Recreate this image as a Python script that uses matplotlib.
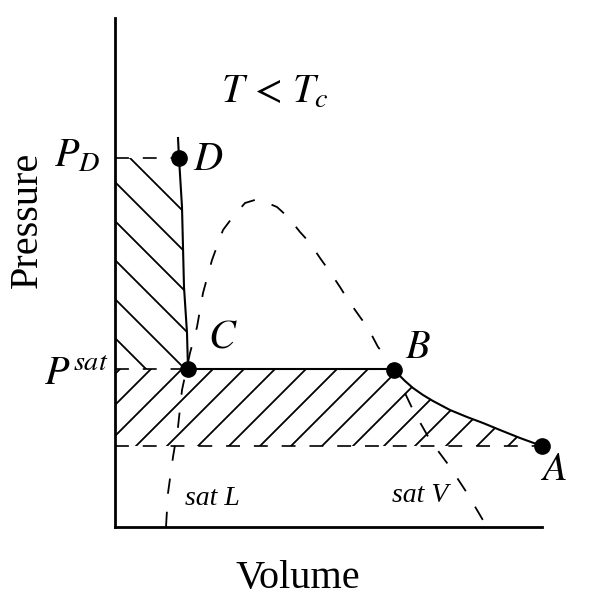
import numpy as np
import matplotlib
matplotlib.use("Agg")
import matplotlib.pyplot as plt
from matplotlib.patches import Polygon

plt.rcParams["mathtext.fontset"] = "stix"
plt.rcParams["font.family"] = ["Liberation Serif", "DejaVu Serif"]
plt.rcParams["lines.scale_dashes"] = False

# isotherm T < Tc : liquid branch (D -> C) and vapour branch (B -> A)
liq_v = [63, 64, 67, 68, 69, 72, 73]
liq_p = [389, 369, 320, 280, 240, 194, 158]
vap_v = [279, 284, 290, 298, 308, 318, 335, 352, 368, 385, 405, 427]
vap_p = [158, 152, 146, 139, 132, 126, 117, 110, 104, 97, 89, 81]

# saturation dome (sat L on the left, sat V on the right)
dome_v = [51, 53, 58, 63, 67, 75, 82, 88, 97, 108, 117, 130, 143, 162, 173,
          185, 195, 205, 215, 225, 233, 245, 253, 263, 272, 280, 298, 315,
          335, 352, 372]
dome_p = [0, 34, 70, 100, 137, 174, 200, 234, 267, 297, 309, 324, 328, 320,
          310, 295, 284, 269, 255, 240, 227, 210, 199, 180, 169, 155, 117,
          87, 60, 34, 0]

# marked states
pt_names = ["A", "B", "C", "D"]
pt_v = [427, 279, 73, 64]
pt_p = [81, 157, 158, 369]

P_D = 369
P_SAT = 158
P_A = 81

fig = plt.figure(figsize=(5.92, 6.10), dpi=100)
ax = fig.add_axes([115 / 592, 83 / 610, 427 / 592, 509 / 610])
ax.set_xlim(0, 427)
ax.set_ylim(0, 509)
for side in ["top", "right"]:
    ax.spines[side].set_visible(False)
for side in ["left", "bottom"]:
    ax.spines[side].set_linewidth(2)
ax.set_xticks([])
ax.set_yticks([])

dash_h = (0, (10, 10))
dash_dome = (0, (11, 13))

# horizontal dashed guides
ax.plot([0, pt_v[3]], [P_D, P_D], color="black", lw=1.2, ls=dash_h)
ax.plot([0, pt_v[2]], [P_SAT, P_SAT], color="black", lw=1.2, ls=dash_h)
ax.plot([0, pt_v[0]], [P_A, P_A], color="black", lw=1.2, ls=dash_h,
        clip_on=False)

# dome
ax.plot(dome_v, dome_p, color="black", lw=1.3, ls=dash_dome, clip_on=False)

# isotherm
iso_v = liq_v + vap_v
iso_p = liq_p + vap_p
ax.plot(iso_v, iso_p, color="black", lw=1.5, solid_joinstyle="round")

# hatched regions (drawn by hand so the spacing matches)
upper = Polygon(list(zip([0] + liq_v[1:] + [0], [P_D] + liq_p[1:] + [P_SAT])),
                closed=True, fc="none", ec="none")
lower = Polygon(list(zip([0] + vap_v + [0], [P_SAT] + vap_p + [P_A])),
                closed=True, fc="none", ec="none")
ax.add_patch(upper)
ax.add_patch(lower)

xx = np.array([0, 427])
for c in 345 + 39 * np.arange(-5, 2):
    ln, = ax.plot(xx, c - xx, color="black", lw=1.3)
    ln.set_clip_path(upper)
for c in 91 + 31 * np.arange(-14, 3):
    ln, = ax.plot(xx, xx + c, color="black", lw=1.3)
    ln.set_clip_path(lower)

# state points
ax.plot(pt_v, pt_p, "o", color="black", ms=11, clip_on=False, zorder=5)

fs = 29
label_pos = {"A": (425, 47), "B": (290, 169), "C": (93, 180), "D": (78, 357)}
for name in pt_names:
    x, y = label_pos[name]
    ax.text(x, y, "$" + name + "$", fontsize=fs, ha="left", va="baseline")

ax.text(160, 424, r"$T\,<\,T_c$", fontsize=fs, ha="center", va="baseline")
ax.text(-15, 360, r"$P_D$", fontsize=fs, ha="right", va="baseline")
ax.text(-7, 142, r"$P^{sat}$", fontsize=fs, ha="right", va="baseline")

ax.text(70, 22, "sat L", fontsize=20, fontstyle="italic", ha="left",
        va="baseline")
ax.text(277, 25, "sat V", fontsize=20, fontstyle="italic", ha="left",
        va="baseline")

fig.text(298 / 592, 1 - 588 / 610, "Volume", fontsize=fs, ha="center",
         va="baseline")
fig.text(27 / 592, 1 - 220 / 610, "Pressure", fontsize=fs, rotation=90,
         ha="center", va="center")

fig.savefig("out.png", dpi=100)
